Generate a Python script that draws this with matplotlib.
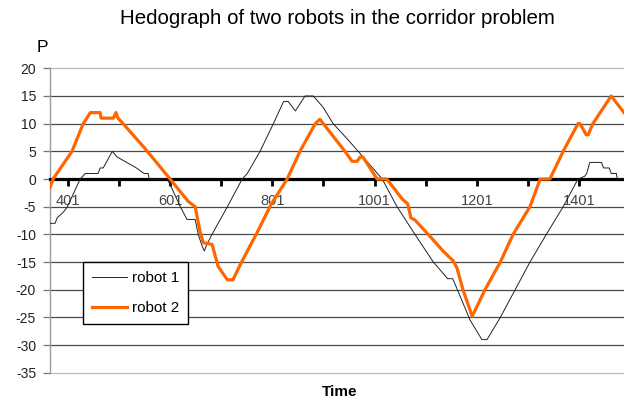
import numpy as np
import matplotlib
matplotlib.use("Agg")
import matplotlib.pyplot as plt
from matplotlib.ticker import FixedLocator

plt.rcParams['font.family'] = ['Liberation Sans', 'DejaVu Sans']
plt.rcParams['axes.unicode_minus'] = False

# robot 1 (thin line): corner points
t1 = [366, 376, 380, 392, 400, 425, 435, 460, 464, 470, 488, 497, 535, 550, 552,
      558, 560, 595, 601, 621, 634, 650, 656, 664, 668, 672, 683, 713, 742, 752,
      777, 803, 823, 832, 846, 865, 881, 900, 920, 949, 969, 1016, 1045, 1080,
      1116, 1144, 1154, 1163, 1188, 1211, 1221, 1247, 1276, 1305, 1337, 1370,
      1399, 1412, 1416, 1422, 1445, 1449, 1460, 1464, 1474, 1476, 1489]
p1 = [-8, -8, -7, -6, -5, 0, 1, 1, 2, 2, 5, 4, 2, 1, 1,
      1, 0, 0, -1, -5, -7.3, -7.3, -10, -12.2, -13, -12, -10, -5, 0, 1,
      5, 10, 14, 14, 12.3, 15, 15, 13, 10, 7.1, 5, 0, -5, -10,
      -15, -18, -18, -20, -25.5, -29, -29, -25, -20, -15, -10, -5,
      0, 0.5, 1, 3, 3, 2, 2, 1, 1, 0, 0]

# robot 2 (thick orange line)
t2 = [366, 372, 409, 431, 445, 464, 466, 490, 495, 499, 509, 552, 601, 636, 650,
      660, 666, 683, 695, 713, 724, 738, 771, 799, 830, 855, 885, 894, 943, 957,
      967, 973, 978, 1006, 1025, 1055, 1066, 1072, 1080, 1106, 1135, 1155, 1162,
      1174, 1192, 1217, 1247, 1272, 1305, 1325, 1344, 1370, 1399, 1403, 1415,
      1419, 1428, 1464, 1489]
p2 = [-1.5, 0, 5, 10, 12, 12, 11, 11, 12, 11, 10, 5.5, 0, -4, -5,
      -9.7, -11.5, -11.8, -15.8, -18.2, -18.2, -15.5, -9.7, -4.5, 0, 5, 10, 10.8, 5, 3.2,
      3.2, 4, 4, 0, 0, -3.6, -4.5, -7, -7.4, -10, -13, -14.8, -16,
      -20, -24.8, -20, -15, -10, -5, 0, 0, 5, 10, 10, 8,
      8, 10, 15, 12]

yticks = list(range(-35, 21, 5))
xlabels = [401, 601, 801, 1001, 1201, 1401]
xminor = [501, 701, 901, 1101, 1301]

fig = plt.figure(figsize=(6.24, 4.03), dpi=100)
ax = fig.add_axes([50 / 624, 1 - 372.8 / 403, 1 - 50 / 624, (372.8 - 68.3) / 403])

ax.plot(t1, p1, color='#222222', lw=0.7, zorder=3, label='robot 1')
ax.plot(t2, p2, color='#ff6600', lw=2.3, zorder=4, label='robot 2')

ax.set_xlim(366, 1489)
ax.set_ylim(-35, 20)

# horizontal grid
for y in yticks:
    if y == 0:
        continue
    c = '#bbbbbb' if y in (20, -35) else '#4a4a4a'
    ax.axhline(y, color=c, lw=0.9, zorder=1, clip_on=False)

ax.set_yticks(yticks)
ax.set_yticklabels([str(v) for v in yticks])
ax.tick_params(axis='y', direction='out', length=5, width=0.9, color='#777777',
               pad=5, labelsize=10, labelcolor='#222222')

ax.spines['bottom'].set_position(('data', 0))
ax.spines['bottom'].set_linewidth(2.3)
ax.spines['bottom'].set_color('black')
ax.spines['bottom'].set_zorder(2.5)
ax.spines['top'].set_visible(False)
ax.spines['right'].set_visible(False)
ax.spines['left'].set_color('#999999')
ax.spines['left'].set_linewidth(1)

ax.set_xticks(xlabels)
ax.set_xticklabels([str(v) for v in xlabels])
ax.xaxis.set_minor_locator(FixedLocator(xminor))
ax.tick_params(axis='x', which='both', direction='out', length=5, width=2,
               color='black', pad=6, labelsize=10.5, labelcolor='#444444')

leg = ax.legend(loc='upper left', bbox_to_anchor=(0.0575, 0.364),
                borderaxespad=0, fancybox=False, framealpha=1,
                edgecolor='black', fontsize=11, handlelength=2.3,
                handletextpad=0.3, labelspacing=1.05, borderpad=0.6)
leg.get_frame().set_linewidth(1)
leg.set_zorder(5)

fig.text(337 / 624, 1 - 18 / 403, 'Hedograph of two robots in the corridor problem',
         ha='center', va='center', fontsize=14.8)
fig.text(42 / 624, 1 - 47 / 403, 'P', ha='center', va='center', fontsize=12.5)
fig.text(340 / 624, 1 - 392 / 403, 'Time', ha='center', va='center',
         fontsize=11, fontweight='bold')

fig.savefig('out.png', dpi=100)
